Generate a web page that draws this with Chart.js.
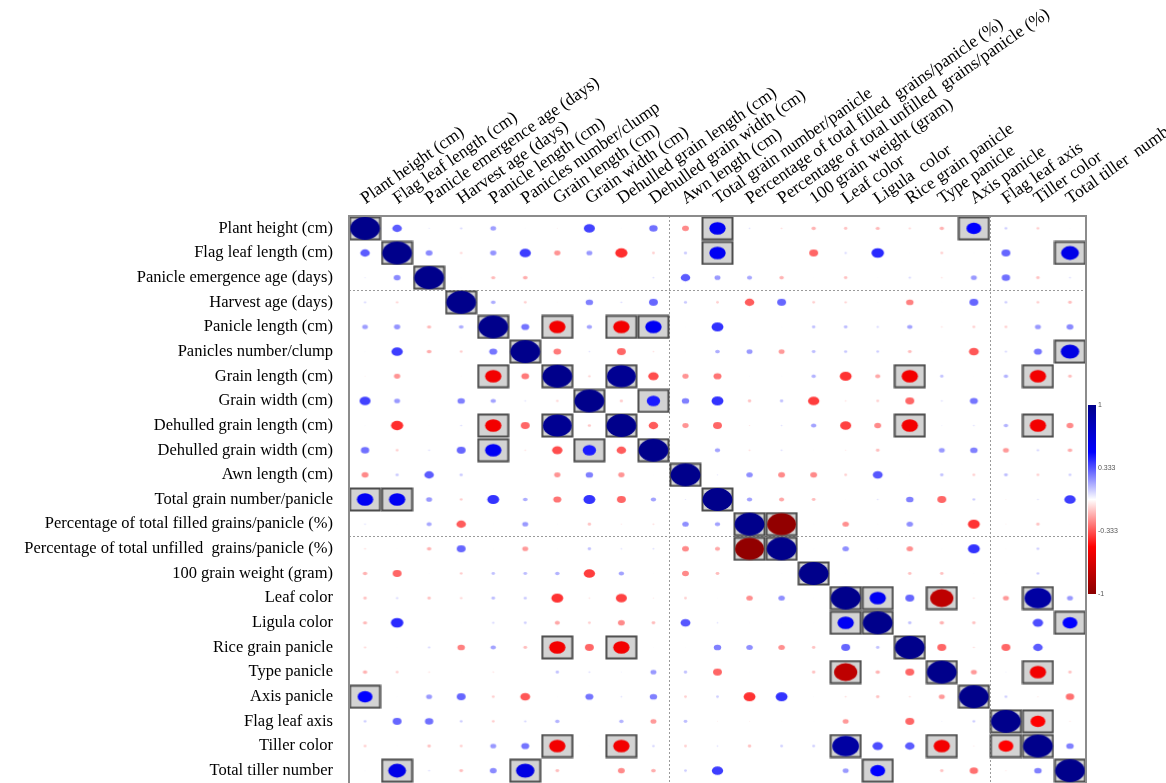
<!DOCTYPE html>
<html>
<head>
<meta charset="utf-8">
<title>Correlation matrix</title>
<script src="https://cdn.jsdelivr.net/npm/chart.js@4.4.1/dist/chart.umd.min.js"></script>
<style>
  html, body { margin: 0; padding: 0; background: #fff; }
  canvas { display: block; }
</style>
</head>
<body>
<canvas id="corrChart" width="1166" height="783"></canvas>
<script>
const rowLabels = [
  'Plant height (cm)', 'Flag leaf length (cm)', 'Panicle emergence age (days)', 'Harvest age (days)',
  'Panicle length (cm)', 'Panicles number/clump', 'Grain length (cm)', 'Grain width (cm)',
  'Dehulled grain length (cm)', 'Dehulled grain width (cm)', 'Awn length (cm)', 'Total grain number/panicle',
  'Percentage of total filled grains/panicle (%)', 'Percentage of total unfilled  grains/panicle (%)',
  '100 grain weight (gram)', 'Leaf color', 'Ligula color', 'Rice grain panicle', 'Type panicle',
  'Axis panicle', 'Flag leaf axis', 'Tiller color', 'Total tiller number'
];

const colLabels = [
  'Plant height (cm)', 'Flag leaf length (cm)', 'Panicle emergence age (days)', 'Harvest age (days)',
  'Panicle length (cm)', 'Panicles number/clump', 'Grain length (cm)', 'Grain width (cm)',
  'Dehulled grain length (cm)', 'Dehulled grain width (cm)', 'Awn length (cm)', 'Total grain number/panicle',
  'Percentage of total filled  grains/panicle (%)', 'Percentage of total unfilled  grains/panicle (%)',
  '100 grain weight (gram)', 'Leaf color', 'Ligula  color', 'Rice grain panicle', 'Type panicle',
  'Axis panicle', 'Flag leaf axis', 'Tiller color', 'Total tiller  number'
];

// lower triangle of the correlation matrix, row by row (diagonal is 1)
const corrLower = [
  [],
  [0.32],
  [0.05, 0.23],
  [0.08, -0.09, 0.02],
  [0.19, 0.21, -0.14, 0.16],
  [0.03, 0.38, -0.16, -0.10, 0.27],
  [-0.04, -0.21, 0.02, -0.03, -0.55, -0.26],
  [0.37, 0.20, 0.02, 0.25, 0.18, 0.06, -0.09],
  [0.03, -0.41, 0.02, 0.07, -0.55, -0.30, 0.97, -0.11],
  [0.28, -0.10, 0.07, 0.30, 0.55, -0.06, -0.35, 0.45, -0.32],
  [-0.23, 0.11, 0.32, 0.11, 0.02, 0.02, -0.21, 0.25, -0.21, 0.02],
  [0.55, 0.55, 0.20, -0.10, 0.40, 0.16, -0.27, 0.40, -0.30, 0.18, 0.05],
  [0.06, 0.02, 0.17, -0.32, 0.02, 0.20, 0.03, -0.12, -0.05, -0.07, 0.22, 0.18],
  [-0.07, 0.02, -0.15, 0.30, 0.02, -0.20, 0.03, 0.12, 0.06, 0.07, -0.23, -0.17, -0.97],
  [-0.15, -0.30, 0.02, -0.10, 0.12, 0.13, 0.15, -0.38, 0.18, 0.02, -0.23, -0.13, 0.02, 0.02],
  [-0.12, 0.08, -0.12, -0.09, 0.13, 0.11, -0.40, -0.06, -0.37, -0.05, -0.10, 0.02, -0.22, 0.22, 0.02],
  [-0.14, 0.42, 0.02, 0.02, 0.08, 0.10, -0.17, -0.10, -0.23, -0.13, 0.33, 0.06, -0.03, 0.03, 0.02, 0.55],
  [-0.08, 0.02, 0.08, -0.25, 0.18, -0.13, -0.55, -0.30, -0.55, 0.03, 0.02, 0.25, 0.22, -0.22, -0.12, 0.30, 0.12],
  [-0.15, -0.10, -0.06, 0.02, -0.06, 0.02, 0.12, 0.07, 0.04, 0.20, 0.12, -0.30, 0.02, 0.02, -0.12, -0.78, -0.15, -0.30],
  [0.50, 0.03, 0.20, 0.30, -0.10, -0.33, 0.02, 0.27, 0.06, 0.25, -0.10, 0.10, -0.40, 0.40, 0.03, -0.07, -0.12, -0.07, -0.20],
  [0.10, 0.30, 0.28, 0.10, -0.10, 0.08, 0.15, 0.02, 0.15, -0.20, 0.13, -0.04, -0.04, -0.03, 0.02, -0.20, 0.02, -0.30, 0.04, 0.10],
  [-0.10, 0.02, -0.12, -0.10, 0.20, 0.27, -0.55, 0.02, -0.55, 0.09, -0.10, 0.06, -0.12, 0.10, 0.10, 0.90, 0.35, 0.32, -0.55, -0.05, -0.50],
  [0.03, 0.60, 0.07, -0.13, 0.23, 0.62, -0.13, 0.02, -0.23, -0.16, 0.10, 0.38, 0.02, 0.02, 0.02, 0.20, 0.50, 0.02, -0.12, -0.28, -0.05, 0.25]
];

// significant pairs (boxed cells), given as [row, col] of the lower triangle
const signifPairs = [
  [11, 0], [19, 0], [11, 1], [22, 1], [6, 4], [8, 4], [9, 4], [22, 5], [8, 6], [17, 6], [21, 6],
  [9, 7], [17, 8], [21, 8], [13, 12], [16, 15], [18, 15], [21, 15], [22, 16], [21, 18], [21, 20]
];

// group separators: a dashed line is drawn before these indices
const rowBreaks = [3, 13];
const colBreaks = [10, 20];

const colorbarTicks = [1, 0.333, -0.333, -1];

const n = rowLabels.length;

function corrAt(i, j) {
  if (i === j) return 1;
  return i > j ? corrLower[i][j] : corrLower[j][i];
}

function mix(a, b, t) {
  return a.map((v, k) => Math.round(v + (b[k] - v) * t));
}

// white -> blue -> darkblue for positive, white -> red -> darkred for negative
function corrColor(v) {
  const t = Math.min(Math.abs(v), 1);
  const mid = v >= 0 ? [0, 0, 255] : [255, 0, 0];
  const end = v >= 0 ? [0, 0, 139] : [139, 0, 0];
  const c = t <= 0.5 ? mix([255, 255, 255], mid, t / 0.5) : mix(mid, end, (t - 0.5) / 0.5);
  return 'rgb(' + c.join(',') + ')';
}

const styleCache = {};

function cellSize(chart) {
  return {
    w: chart.scales.x.width / n,
    h: chart.scales.y.height / n
  };
}

function ellipseStyle(v, cw, ch) {
  const key = 'e' + v + '|' + cw.toFixed(2) + '|' + ch.toFixed(2);
  if (styleCache[key]) return styleCache[key];
  const c = document.createElement('canvas');
  c.width = Math.ceil(cw);
  c.height = Math.ceil(ch);
  const g = c.getContext('2d');
  const a = Math.abs(v);
  g.fillStyle = corrColor(v);
  g.beginPath();
  g.ellipse(c.width / 2, c.height / 2, 0.465 * cw * a, 0.465 * ch * a, 0, 0, Math.PI * 2);
  g.fill();
  styleCache[key] = c;
  return c;
}

function boxStyle(cw, ch) {
  const key = 'b|' + cw.toFixed(2) + '|' + ch.toFixed(2);
  if (styleCache[key]) return styleCache[key];
  const c = document.createElement('canvas');
  c.width = Math.ceil(cw);
  c.height = Math.ceil(ch);
  const g = c.getContext('2d');
  g.fillStyle = '#d3d3d3';
  g.fillRect(1, 1, c.width - 2, c.height - 2);
  g.strokeStyle = '#4d4d4d';
  g.lineWidth = 2;
  g.strokeRect(1.5, 1.5, c.width - 3, c.height - 3);
  styleCache[key] = c;
  return c;
}

const cellPoints = [];
for (let i = 0; i < n; i++) {
  for (let j = 0; j < n; j++) {
    cellPoints.push({ x: colLabels[j], y: rowLabels[i], v: corrAt(i, j) });
  }
}

const boxPoints = [];
for (let i = 0; i < n; i++) {
  boxPoints.push({ x: colLabels[i], y: rowLabels[i] });
}
signifPairs.forEach(function ([i, j]) {
  boxPoints.push({ x: colLabels[j], y: rowLabels[i] });
  boxPoints.push({ x: colLabels[i], y: rowLabels[j] });
});

// dashed separators under the cells, frame and colour key on top
const matrixDecor = {
  id: 'matrixDecor',
  beforeDatasetsDraw(chart) {
    const { ctx, chartArea: a, scales: { x, y } } = chart;
    ctx.save();
    ctx.strokeStyle = '#9a9a9a';
    ctx.lineWidth = 1;
    ctx.setLineDash([2, 2]);
    rowBreaks.forEach(function (b) {
      const py = Math.round((y.getPixelForValue(b - 1) + y.getPixelForValue(b)) / 2) + 0.5;
      ctx.beginPath();
      ctx.moveTo(a.left, py);
      ctx.lineTo(a.right, py);
      ctx.stroke();
    });
    colBreaks.forEach(function (b) {
      const px = Math.round((x.getPixelForValue(b - 1) + x.getPixelForValue(b)) / 2) + 0.5;
      ctx.beginPath();
      ctx.moveTo(px, a.top);
      ctx.lineTo(px, a.bottom);
      ctx.stroke();
    });
    ctx.restore();
  },
  afterDatasetsDraw(chart) {
    const { ctx, chartArea: a } = chart;
    ctx.save();
    ctx.strokeStyle = '#8c8c8c';
    ctx.lineWidth = 2;
    ctx.strokeRect(a.left, a.top, a.width, a.height + 4);

    // colour key
    const barLeft = a.right + 2;
    const barW = 8;
    const barTop = a.top + a.height / 3;
    const barH = a.height / 3;
    const grad = ctx.createLinearGradient(0, barTop, 0, barTop + barH);
    grad.addColorStop(0, corrColor(1));
    grad.addColorStop(0.25, corrColor(0.5));
    grad.addColorStop(0.5, corrColor(0));
    grad.addColorStop(0.75, corrColor(-0.5));
    grad.addColorStop(1, corrColor(-1));
    ctx.fillStyle = grad;
    ctx.fillRect(barLeft, barTop, barW, barH);

    ctx.fillStyle = '#555';
    ctx.font = '7px "Liberation Sans"';
    ctx.textBaseline = 'middle';
    ctx.textAlign = 'left';
    colorbarTicks.forEach(function (t) {
      const py = barTop + (1 - (t + 1) / 2) * barH;
      ctx.fillText(String(t), barLeft + barW + 2, py);
    });
    ctx.restore();
  }
};

document.addEventListener('DOMContentLoaded', function () {
  const ctx = document.getElementById('corrChart').getContext('2d');

  new Chart(ctx, {
    type: 'scatter',
    data: {
      datasets: [
        {
          label: 'Correlation',
          data: cellPoints,
          order: 1,
          pointRadius: 1,
          pointStyle: function (c) {
            const s = cellSize(c.chart);
            return ellipseStyle(c.raw ? c.raw.v : 0, s.w, s.h);
          }
        },
        {
          label: 'Significant',
          data: boxPoints,
          order: 2,
          pointRadius: 1,
          pointStyle: function (c) {
            const s = cellSize(c.chart);
            return boxStyle(s.w, s.h);
          }
        }
      ]
    },
    options: {
      responsive: false,
      animation: false,
      events: [],
      layout: { autoPadding: false, padding: { left: 0, right: 80, top: 0, bottom: 0 } },
      plugins: {
        legend: { display: false },
        tooltip: { enabled: false }
      },
      scales: {
        x: {
          type: 'category',
          labels: colLabels,
          position: 'top',
          offset: true,
          grid: { display: false, drawTicks: false },
          border: { display: false },
          ticks: {
            autoSkip: false,
            minRotation: 35,
            maxRotation: 35,
            padding: 7,
            labelOffset: 10,
            color: '#000',
            font: { family: 'Liberation Serif', size: 17.5 }
          },
          afterFit: function (scale) {
            scale.height = 216;
            scale.paddingLeft = 0;
            scale.paddingRight = 0;
          }
        },
        y: {
          type: 'category',
          labels: rowLabels,
          offset: true,
          grid: { display: false, drawTicks: false },
          border: { display: false },
          ticks: {
            autoSkip: false,
            padding: 16,
            color: '#000',
            font: { family: 'Liberation Serif', size: 16.5 }
          },
          afterFit: function (scale) {
            scale.width = 349;
            scale.paddingTop = 0;
            scale.paddingBottom = 0;
          }
        }
      }
    },
    plugins: [matrixDecor]
  });
});
</script>
</body>
</html>
